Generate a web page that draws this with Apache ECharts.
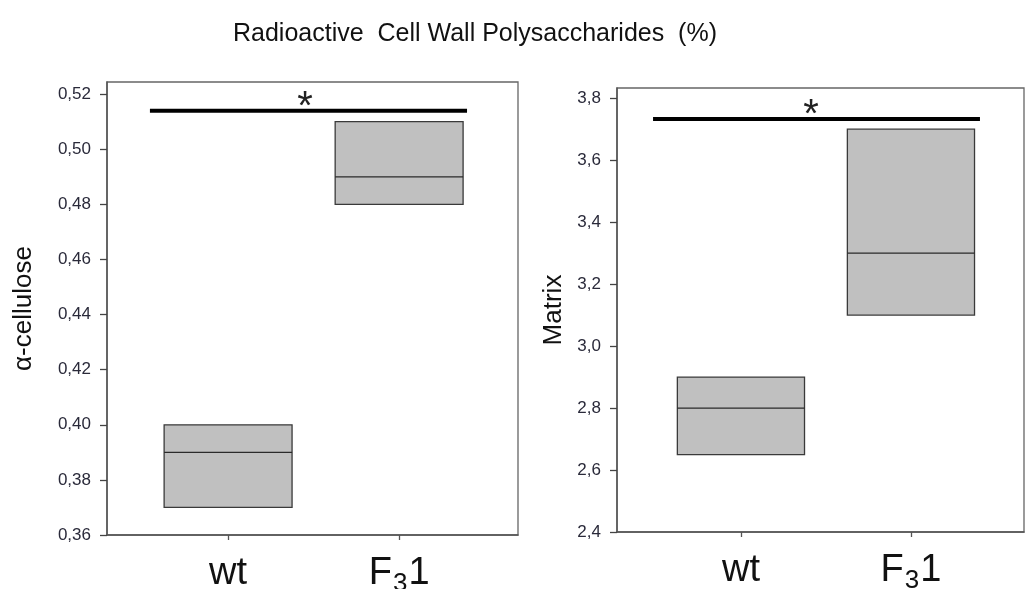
<!DOCTYPE html>
<html>
<head>
<meta charset="utf-8">
<script src="https://cdn.jsdelivr.net/npm/echarts@6/dist/echarts.min.js"></script>
<style>
  html, body { margin: 0; padding: 0; background: #fff; }
  #main { width: 1025px; height: 589px; }
</style>
</head>
<body>
<div id="main"></div>
<script>
// groups on the x axis (placed at 1 and 2)
var categories = ['wt', 'F3 1'];
var categoryLabels = ['{n|wt}', '{n|F}{s|3}{n|1}'];

// alpha-cellulose boxes
var celluloseLow = [0.37, 0.48];
var celluloseMid = [0.39, 0.49];
var celluloseHigh = [0.40, 0.51];
var celluloseTicks = [0.36, 0.38, 0.40, 0.42, 0.44, 0.46, 0.48, 0.50, 0.52];
// significance bar: [from, to, height, star position]
var celluloseSig = [0.543, 2.397, 0.514, 1.45];

// matrix boxes
var matrixLow = [2.65, 3.1];
var matrixMid = [2.8, 3.3];
var matrixHigh = [2.9, 3.7];
var matrixTicks = [2.4, 2.6, 2.8, 3.0, 3.2, 3.4, 3.6, 3.8];
var matrixSig = [0.483, 2.406, 3.733, 1.412];

var FONT = '"Liberation Sans", Arial, sans-serif';
var BOX_HALF = 0.374;

var myChart = echarts.init(document.getElementById('main'));

function boxData(low, mid, high) {
    return categories.map(function (c, i) {
        return [i + 1, low[i], mid[i], high[i]];
    });
}

function renderBox(params, api) {
    var x = api.value(0);
    var p1 = api.coord([x - BOX_HALF, api.value(3)]);
    var p2 = api.coord([x + BOX_HALF, api.value(1)]);
    var m1 = api.coord([x - BOX_HALF, api.value(2)]);
    var m2 = api.coord([x + BOX_HALF, api.value(2)]);
    return {
        type: 'group',
        children: [{
            type: 'rect',
            shape: { x: p1[0], y: p1[1], width: p2[0] - p1[0], height: p2[1] - p1[1] },
            style: { fill: '#c0c0c0', stroke: '#3a3a3a', lineWidth: 1.3 }
        }, {
            type: 'line',
            shape: { x1: m1[0], y1: m1[1], x2: m2[0], y2: m2[1] },
            style: { stroke: '#2a2a2a', lineWidth: 1.3 }
        }]
    };
}

function renderSig(params, api) {
    var a = api.coord([api.value(0), api.value(2)]);
    var b = api.coord([api.value(1), api.value(2)]);
    var s = api.coord([api.value(3), api.value(2)]);
    return {
        type: 'group',
        children: [{
            type: 'line',
            shape: { x1: a[0], y1: a[1], x2: b[0], y2: b[1] },
            style: { stroke: '#000', lineWidth: 4 }
        }, {
            type: 'text',
            x: s[0], y: s[1] - 3,
            style: { text: '*', fontSize: 40, fontFamily: FONT, fill: '#222', align: 'center', verticalAlign: 'middle' }
        }]
    };
}

function xAxis(idx, min, max) {
    return {
        gridIndex: idx, type: 'value', min: min, max: max,
        splitLine: { show: false },
        axisLine: { lineStyle: { color: '#555', width: 1.5 } },
        axisTick: { customValues: [1, 2], length: 5, lineStyle: { color: '#555', width: 1.3 } },
        axisLabel: {
            customValues: [1, 2], margin: 16,
            formatter: function (v) { return categoryLabels[Math.round(v) - 1]; },
            rich: {
                n: { fontSize: 38, lineHeight: 46, fontFamily: FONT, color: '#111' },
                s: { fontSize: 26, lineHeight: 18, fontFamily: FONT, color: '#111', verticalAlign: 'bottom', padding: [0, 1, 0, 1] }
            }
        }
    };
}

function yAxis(idx, min, max, ticks, digits, name, gap) {
    return {
        gridIndex: idx, type: 'value', min: min, max: max,
        name: name, nameLocation: 'middle', nameGap: gap,
        nameTextStyle: { fontSize: 26, fontFamily: FONT, color: '#111' },
        splitLine: { show: false },
        axisLine: { lineStyle: { color: '#555', width: 1.5 } },
        axisTick: { customValues: ticks, length: 7, lineStyle: { color: '#444', width: 1.3 } },
        axisLabel: {
            customValues: ticks, margin: 16, fontSize: 17, fontFamily: FONT, color: '#2a2a3a',
            formatter: function (v) { return v.toFixed(digits).replace('.', ','); }
        }
    };
}

var option = {
    animation: false,
    title: {
        text: 'Radioactive  Cell Wall Polysaccharides  (%)',
        left: 228, top: 17,
        textStyle: { fontSize: 25, fontWeight: 'normal', fontFamily: FONT, color: '#111' }
    },
    grid: [
        { left: 107, top: 82, width: 411, height: 453, outerBoundsMode: 'none', containLabel: false, show: true, borderColor: '#666', borderWidth: 1.3 },
        { left: 617, top: 88, width: 407, height: 444, outerBoundsMode: 'none', containLabel: false, show: true, borderColor: '#666', borderWidth: 1.3 }
    ],
    xAxis: [xAxis(0, 0.292, 2.695), xAxis(1, 0.271, 2.665)],
    yAxis: [
        yAxis(0, 0.36, 0.5244, celluloseTicks, 2, 'α-cellulose', 70),
        yAxis(1, 2.4, 3.833, matrixTicks, 1, 'Matrix', 50)
    ],
    series: [
        { type: 'custom', xAxisIndex: 0, yAxisIndex: 0, renderItem: renderBox, data: boxData(celluloseLow, celluloseMid, celluloseHigh) },
        { type: 'custom', xAxisIndex: 0, yAxisIndex: 0, renderItem: renderSig, data: [celluloseSig] },
        { type: 'custom', xAxisIndex: 1, yAxisIndex: 1, renderItem: renderBox, data: boxData(matrixLow, matrixMid, matrixHigh) },
        { type: 'custom', xAxisIndex: 1, yAxisIndex: 1, renderItem: renderSig, data: [matrixSig] }
    ]
};

myChart.setOption(option);
</script>
</body>
</html>
